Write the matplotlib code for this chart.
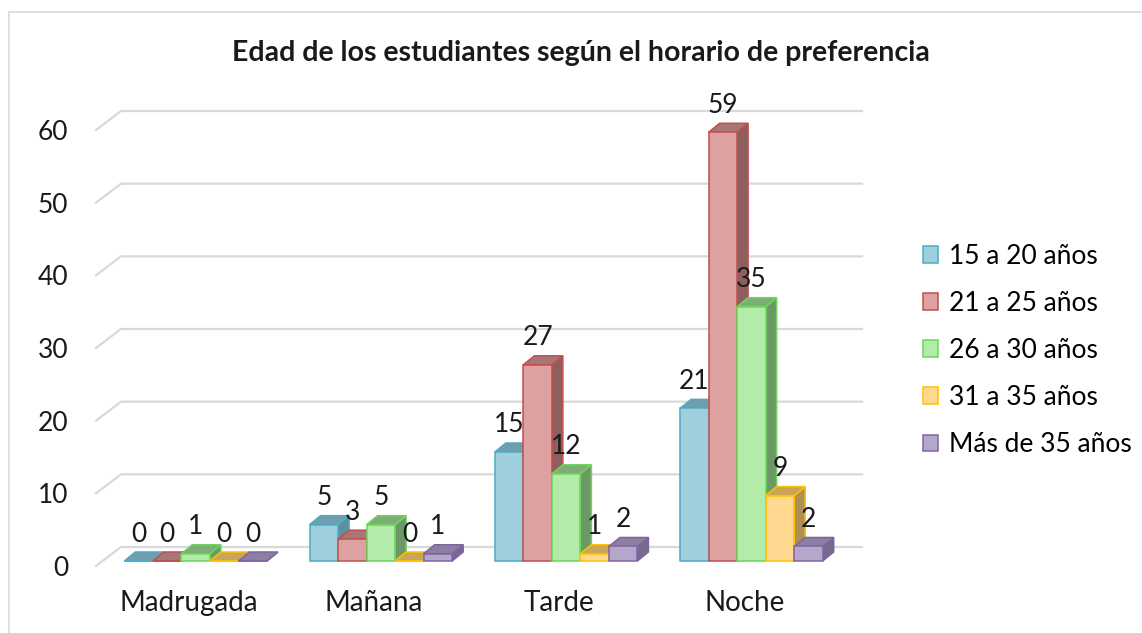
import matplotlib
matplotlib.use("Agg")
import matplotlib.pyplot as plt
from matplotlib.patches import Polygon, Rectangle, Patch
from matplotlib.transforms import offset_copy

# datos
categorias = ["Madrugada", "Mañana", "Tarde", "Noche"]
series = ["15 a 20 años", "21 a 25 años", "26 a 30 años", "31 a 35 años", "Más de 35 años"]
edad_15_20 = [0, 5, 15, 21]
edad_21_25 = [0, 3, 27, 59]
edad_26_30 = [1, 5, 12, 35]
edad_31_35 = [0, 0, 1, 9]
edad_mas_35 = [0, 1, 2, 2]
valores = [edad_15_20, edad_21_25, edad_26_30, edad_31_35, edad_mas_35]
yticks = [0, 10, 20, 30, 40, 50, 60]

# colores estilo Excel 3D: frente, borde, tapa, lateral
frente = ["#9fcfdd", "#dca1a0", "#b3eca9", "#ffd98f", "#b5a7cc"]
borde = ["#4bacc6", "#c0504d", "#6bd658", "#ffc000", "#8064a2"]
tapa = ["#6f9fae", "#a87676", "#7fad78", "#c9a45c", "#8d7ea3"]
lateral = ["#5f8e9c", "#8f5f5f", "#6c9868", "#b08f55", "#776a8e"]

plt.rcParams['font.family'] = ['Lato', 'DejaVu Sans']
fs = 19

W, H = 1142, 633
fig = plt.figure(figsize=(W / 100, H / 100), dpi=100)

# area del grafico en pixeles (plano frontal)
left, right, bottom, top = 96, 837, 566, 130
ax = fig.add_axes([left / W, 1 - bottom / H, (right - left) / W, (bottom - top) / H])
px_x = (right - left) / 4.0
px_y = (bottom - top) / 60.0

# paredes del fondo: lineas de division con perspectiva
gx, gy = 25 / px_x, 19 / px_y
for v in yticks:
    ax.plot([-0.5, -0.5 + gx, 3.5 + gx], [v, v + gy, v + gy],
            color="#d9d9d9", lw=1.6, clip_on=False, zorder=1)

bar_trans = offset_copy(ax.transData, fig=fig, x=7, y=5, units='dots')
w = 0.154
dx, dy = 11 / px_x, 9 / px_y

handles = []
for k, vals in enumerate(valores):
    xs = [i + (k - 2) * w for i in range(len(categorias))]
    z = 2 + k
    for xc, v in zip(xs, vals):
        x0, x1 = xc - w / 2, xc + w / 2
        lado = Polygon([(x1, 0), (x1 + dx, dy), (x1 + dx, v + dy), (x1, v)],
                       closed=True, facecolor=lateral[k], edgecolor=borde[k],
                       lw=1.1, transform=bar_trans, zorder=z, clip_on=False)
        arriba = Polygon([(x0, v), (x1, v), (x1 + dx, v + dy), (x0 + dx, v + dy)],
                         closed=True, facecolor=tapa[k], edgecolor=borde[k],
                         lw=1.1, transform=bar_trans, zorder=z, clip_on=False)
        ax.add_patch(lado)
        ax.add_patch(arriba)
        ax.annotate(str(v), xy=(xc, v), xycoords=bar_trans, xytext=(0, 27),
                    textcoords='offset pixels', ha='center', va='center',
                    fontsize=fs, color="#1a1a1a", zorder=10)
    ax.bar(xs, vals, width=w, color=frente[k], edgecolor=borde[k], linewidth=1.1,
           transform=bar_trans, zorder=z + 0.5, clip_on=False)
    handles.append(Patch(facecolor=frente[k], edgecolor=borde[k], linewidth=1.1, label=series[k]))

ax.set_xlim(-0.5, 3.5)
ax.set_ylim(0, 60)
ax.set_yticks(yticks)
ax.set_xticks(range(len(categorias)))
ax.set_xticklabels(categorias)
ax.tick_params(axis='y', length=0, pad=20, labelsize=fs, labelcolor="#1a1a1a")
ax.tick_params(axis='x', length=0, pad=17, labelsize=fs + 1, labelcolor="#1a1a1a")
for s in ax.spines.values():
    s.set_visible(False)
ax.patch.set_visible(False)

fig.text(581 / W, 1 - 53 / H, "Edad de los estudiantes según el horario de preferencia",
         ha='center', va='center', fontsize=20.5, fontweight='bold', color="#1a1a1a")

fig.legend(handles=handles, loc='upper left', bbox_to_anchor=(912 / W, 1 - 233 / H),
           frameon=False, fontsize=fs, handlelength=0.6, handleheight=0.6,
           handletextpad=0.4, labelspacing=0.84, borderaxespad=0)

# marco del grafico (solo se ven borde izquierdo y superior)
fig.add_artist(Rectangle((9 / W, -0.2), 1.2, 1.2 - 12 / H, transform=fig.transFigure,
                         fill=False, edgecolor="#d9d9d9", lw=1.2))

fig.savefig("out.png", dpi=100)
